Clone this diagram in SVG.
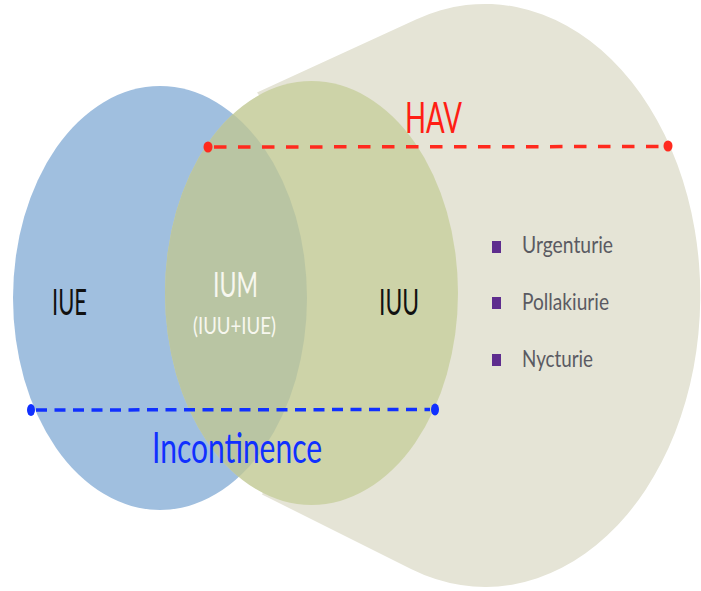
<svg xmlns="http://www.w3.org/2000/svg" width="701" height="591" viewBox="0 0 701 591">
  <style>
    .lbl { font-family: Lato, "Open Sans", "Liberation Sans", sans-serif; }
    .dark { fill: #111111; }
    .light { fill: #F7F7EF; }
    .item { fill: #5A5A62; font-size: 24px; }
    .bullet { fill: #5E2C8E; }
    .dashR { stroke: #FF2A1E; stroke-width: 3.5; stroke-dasharray: 12.5 11.5; fill: none; }
    .dashB { stroke: #1030FF; stroke-width: 3.5; stroke-dasharray: 11 7.5; fill: none; }
  </style>
  <defs>
    <clipPath id="clipBlue">
      <ellipse cx="160" cy="298" rx="147" ry="212"/>
    </clipPath>
  </defs>
  <rect width="701" height="591" fill="#FFFFFF"/>

  <g id="hav-cone">
    <path d="M 257,92.6 L 416,19.5 A 215 291.5 0 1 1 411,569 L 262,494.5 L 300,420 L 300,150 Z" fill="#E5E4D6"/>
  </g>

  <g id="iue">
    <ellipse cx="160" cy="298" rx="147" ry="212" fill="#A0BFDF"/>
  </g>

  <g id="iuu">
    <ellipse cx="311.5" cy="293" rx="146.5" ry="212" fill="#CDD3A8"/>
  </g>

  <g id="ium">
    <ellipse cx="311.5" cy="293" rx="146.5" ry="212" fill="#B9C5A3" clip-path="url(#clipBlue)"/>
  </g>

  <g id="connectors">
    <line class="dashR" x1="214" y1="147" x2="662" y2="146.5"/>
    <ellipse cx="208" cy="147" rx="4.5" ry="5.5" fill="#FF2A1E"/>
    <ellipse cx="668" cy="146" rx="4.5" ry="5.5" fill="#FF2A1E"/>
    <line class="dashB" x1="36" y1="410" x2="430" y2="409.5"/>
    <ellipse cx="31" cy="410" rx="4" ry="6" fill="#1030FF"/>
    <ellipse cx="435" cy="409.5" rx="4" ry="6" fill="#1030FF"/>
  </g>

  <g id="labels">
    <text class="lbl" x="405" y="133" font-size="42" fill="#FF1E14" textLength="57" lengthAdjust="spacingAndGlyphs">HAV</text>
    <text class="lbl" x="152" y="463" font-size="42" fill="#1030FF" textLength="170" lengthAdjust="spacingAndGlyphs">Incontinence</text>
    <text class="lbl dark" x="52" y="315" font-size="36" textLength="35" lengthAdjust="spacingAndGlyphs">IUE</text>
    <text class="lbl dark" x="379" y="315" font-size="36" textLength="40" lengthAdjust="spacingAndGlyphs">IUU</text>
    <text class="lbl light" x="213" y="297" font-size="35" textLength="45" lengthAdjust="spacingAndGlyphs">IUM</text>
    <text class="lbl light" x="193" y="334" font-size="23" textLength="83" lengthAdjust="spacingAndGlyphs">(IUU+IUE)</text>
  </g>

  <g id="symptoms">
    <rect class="bullet" x="492" y="241" width="9" height="12"/>
    <rect class="bullet" x="492" y="297" width="9" height="12"/>
    <rect class="bullet" x="492" y="354" width="9" height="12"/>
    <text class="lbl item" x="522" y="253" textLength="91" lengthAdjust="spacingAndGlyphs">Urgenturie</text>
    <text class="lbl item" x="522" y="310" textLength="87" lengthAdjust="spacingAndGlyphs">Pollakiurie</text>
    <text class="lbl item" x="522" y="367" textLength="71" lengthAdjust="spacingAndGlyphs">Nycturie</text>
  </g>
</svg>
